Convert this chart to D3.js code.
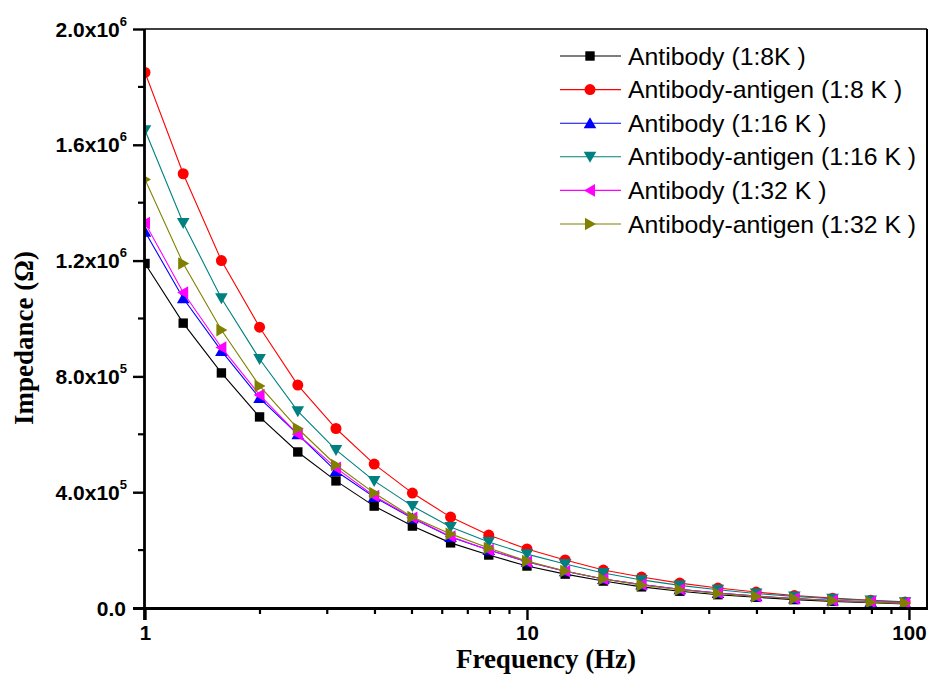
<!DOCTYPE html>
<html>
<head>
<meta charset="utf-8">
<script src="https://cdn.jsdelivr.net/npm/d3@7/dist/d3.min.js"></script>
<style>
  html, body { margin: 0; padding: 0; background: #fff; }
  svg { display: block; }
</style>
</head>
<body>
<svg id="chart" width="931" height="675"></svg>
<script>
// Measurement frequencies (Hz)
const frequencies = [1, 1.259, 1.585, 1.995, 2.512, 3.162, 3.981, 5.012, 6.31, 7.943,
  10, 12.59, 15.85, 19.95, 25.12, 31.62, 39.81, 50.12, 63.1, 79.43, 97.7];

// Impedance magnitudes (ohm) for each sample
const antibody8K = [1.19e6, 9.84e5, 8.12e5, 6.6e5, 5.39e5, 4.39e5, 3.52e5, 2.83e5, 2.25e5, 1.83e5,
  1.45e5, 1.17e5, 9.3e4, 7.3e4, 5.8e4, 4.6e4, 3.7e4, 2.9e4, 2.3e4, 1.8e4, 1.4e4];
const antigen8K = [1.85e6, 1.50e6, 1.20e6, 9.7e5, 7.7e5, 6.2e5, 4.97e5, 3.97e5, 3.14e5, 2.52e5,
  2.04e5, 1.66e5, 1.31e5, 1.07e5, 8.6e4, 6.9e4, 5.5e4, 4.3e4, 3.4e4, 2.7e4, 2.1e4];
const antibody16K = [1.30e6, 1.07e6, 8.88e5, 7.25e5, 6.0e5, 4.73e5, 3.83e5, 3.1e5, 2.45e5, 2.0e5,
  1.6e5, 1.27e5, 1.0e5, 8.1e4, 6.5e4, 5.2e4, 4.1e4, 3.3e4, 2.6e4, 2.1e4, 1.7e4];
const antigen16K = [1.65e6, 1.33e6, 1.07e6, 8.6e5, 6.8e5, 5.46e5, 4.39e5, 3.52e5, 2.8e5, 2.28e5,
  1.86e5, 1.52e5, 1.21e5, 9.7e4, 7.8e4, 6.3e4, 5.0e4, 4.0e4, 3.2e4, 2.6e4, 2.0e4];
const antibody32K = [1.33e6, 1.09e6, 9.0e5, 7.36e5, 6.0e5, 4.84e5, 3.87e5, 3.12e5, 2.47e5, 2.0e5,
  1.6e5, 1.27e5, 1.0e5, 8.1e4, 6.5e4, 5.2e4, 4.1e4, 3.3e4, 2.6e4, 2.1e4, 1.7e4];
const antigen32K = [1.48e6, 1.19e6, 9.6e5, 7.67e5, 6.2e5, 4.94e5, 3.97e5, 3.14e5, 2.56e5, 2.07e5,
  1.62e5, 1.28e5, 1.0e5, 7.9e4, 6.3e4, 5.0e4, 4.0e4, 3.2e4, 2.5e4, 2.0e4, 1.6e4];

const seriesNames = ["Antibody (1:8K )", "Antibody-antigen (1:8 K )", "Antibody (1:16 K )",
  "Antibody-antigen (1:16 K )", "Antibody (1:32 K )", "Antibody-antigen (1:32 K )"];

// Axis ticks
const xTickValues = [1, 10, 100];
const xTickLabels = ["1", "10", "100"];
const yTickValues = [0, 4e5, 8e5, 1.2e6, 1.6e6, 2.0e6];
const yTickMantissa = ["0.0", "4.0x10", "8.0x10", "1.2x10", "1.6x10", "2.0x10"];
const yTickExponent = ["", "5", "5", "6", "6", "6"];
const yMinorValues = [2e5, 6e5, 1.0e6, 1.4e6, 1.8e6];

const seriesValues = [antibody8K, antigen8K, antibody16K, antigen16K, antibody32K, antigen32K];
const colors = ["#000000", "#ff0000", "#0000ff", "#008080", "#ff00ff", "#808000"];
const shapes = ["square", "circle", "up", "down", "left", "right"];

const series = seriesNames.map((name, i) => ({
  name, color: colors[i], shape: shapes[i],
  points: frequencies.map((f, j) => ({ f, z: seriesValues[i][j] }))
}));

const svg = d3.select("#chart");
const plotLeft = 145, plotRight = 927, plotTop = 29, plotBottom = 608;

const x = d3.scaleLog().domain([1, 111.5]).range([plotLeft, plotRight]);
const y = d3.scaleLinear().domain([0, 2.0e6]).range([plotBottom, plotTop]);

function markerPath(shape) {
  const s = 5.5;
  switch (shape) {
    case "square": return `M${-4.7},${-4.7}H4.7V4.7H${-4.7}Z`;
    case "circle": return d3.symbol(d3.symbolCircle, 95)();
    case "up": return `M0,${-s - 0.5}L${s + 0.8},${s - 0.5}L${-s - 0.8},${s - 0.5}Z`;
    case "down": return `M0,${s + 0.5}L${s + 0.8},${-s + 0.5}L${-s - 0.8},${-s + 0.5}Z`;
    case "left": return `M${-s - 0.5},0L${s - 0.5},${-s - 0.8}L${s - 0.5},${s + 0.8}Z`;
    case "right": return `M${s + 0.5},0L${-s + 0.5},${-s - 0.8}L${-s + 0.5},${s + 0.8}Z`;
  }
}

svg.append("defs").append("clipPath").attr("id", "plotClip")
  .append("rect").attr("x", plotLeft).attr("y", plotTop)
  .attr("width", plotRight - plotLeft).attr("height", plotBottom - plotTop);

const plot = svg.append("g").attr("clip-path", "url(#plotClip)");
const line = d3.line().x(d => x(d.f)).y(d => y(d.z));

series.forEach(s => {
  const g = plot.append("g");
  g.append("path").datum(s.points)
    .attr("d", line).attr("fill", "none")
    .attr("stroke", s.color).attr("stroke-width", 1.1);
  g.selectAll("path.m").data(s.points).join("path")
    .attr("class", "m")
    .attr("d", markerPath(s.shape))
    .attr("transform", d => `translate(${x(d.f)},${y(d.z)})`)
    .attr("fill", s.color);
});

// Frame
const frame = svg.append("g").attr("stroke", "#000").attr("fill", "none");
frame.append("line").attr("x1", plotLeft).attr("x2", plotRight).attr("y1", plotTop).attr("y2", plotTop).attr("stroke-width", 1.6);
frame.append("line").attr("x1", plotRight).attr("x2", plotRight).attr("y1", plotTop).attr("y2", plotBottom).attr("stroke-width", 2);

// X axis
const xMinor = [];
[1, 10].forEach(dec => { for (let k = 2; k <= 9; k++) xMinor.push(k * dec); });
const xAxis = d3.axisBottom(x).tickValues(xTickValues)
  .tickFormat((d, i) => xTickLabels[i]).tickSize(12).tickSizeOuter(0).tickPadding(5);
const gx = svg.append("g").attr("transform", `translate(0,${plotBottom})`).call(xAxis);
gx.select(".domain").attr("stroke-width", 2.8).attr("d", `M${plotLeft - 12},0.5H${plotRight + 1}`);
gx.selectAll(".tick line").attr("stroke-width", 2.4);
gx.selectAll(".tick text").attr("font-family", "Arial, 'Liberation Sans', sans-serif")
  .attr("font-weight", "bold").attr("font-size", 20.5).attr("fill", "#000");
gx.append("g").selectAll("line").data(xMinor).join("line")
  .attr("x1", d => x(d)).attr("x2", d => x(d)).attr("y1", 0).attr("y2", 6)
  .attr("stroke", "#000").attr("stroke-width", 2.2);

// Y axis
const yAxis = d3.axisLeft(y).tickValues(yTickValues).tickFormat("").tickSize(12).tickSizeOuter(0);
const gy = svg.append("g").attr("transform", `translate(${plotLeft},0)`).call(yAxis);
gy.select(".domain").attr("stroke-width", 2.8).attr("d", `M-0.5,${plotTop}V${plotBottom + 12}`);
gy.selectAll(".tick line").attr("stroke-width", 2.4);
gy.append("g").selectAll("line").data(yMinorValues).join("line")
  .attr("x1", -7).attr("x2", 0).attr("y1", d => y(d)).attr("y2", d => y(d))
  .attr("stroke", "#000").attr("stroke-width", 2.2);

const yLabels = svg.append("g").attr("font-family", "Arial, 'Liberation Sans', sans-serif")
  .attr("font-weight", "bold").attr("fill", "#000");
yTickValues.forEach((v, i) => {
  const t = yLabels.append("text")
    .attr("x", yTickExponent[i] ? 127 : 126).attr("y", y(v) + 7.5)
    .attr("text-anchor", "end").attr("font-size", 21);
  t.append("tspan").text(yTickMantissa[i]);
  if (yTickExponent[i]) {
    t.append("tspan").attr("dy", -11).attr("font-size", 13).text(yTickExponent[i]);
  }
});

// Axis titles
svg.append("text").attr("x", 546).attr("y", 668).attr("text-anchor", "middle")
  .attr("font-family", "'Times New Roman', 'Liberation Serif', serif")
  .attr("font-weight", "bold").attr("font-size", 27).attr("fill", "#000")
  .text("Frequency (Hz)");
svg.append("text").attr("transform", "translate(33,338) rotate(-90)").attr("text-anchor", "middle")
  .attr("font-family", "'Times New Roman', 'Liberation Serif', serif")
  .attr("font-weight", "bold").attr("font-size", 27).attr("fill", "#000")
  .text("Impedance (Ω)");

// Legend
const legend = svg.append("g");
const legendY = d3.scaleLinear().domain([0, 5]).range([56, 224]);
series.forEach((s, i) => {
  const g = legend.append("g").attr("transform", `translate(0,${legendY(i)})`);
  g.append("line").attr("x1", 560).attr("x2", 621).attr("y1", 0).attr("y2", 0)
    .attr("stroke", s.color).attr("stroke-width", 1.1);
  g.append("path").attr("d", markerPath(s.shape)).attr("transform", "translate(590,0)")
    .attr("fill", s.color);
  g.append("text").attr("x", 628).attr("y", 8.5)
    .attr("font-family", "Arial, 'Liberation Sans', sans-serif")
    .attr("font-size", 24.8).attr("fill", "#000").text(s.name);
});
</script>
</body>
</html>
